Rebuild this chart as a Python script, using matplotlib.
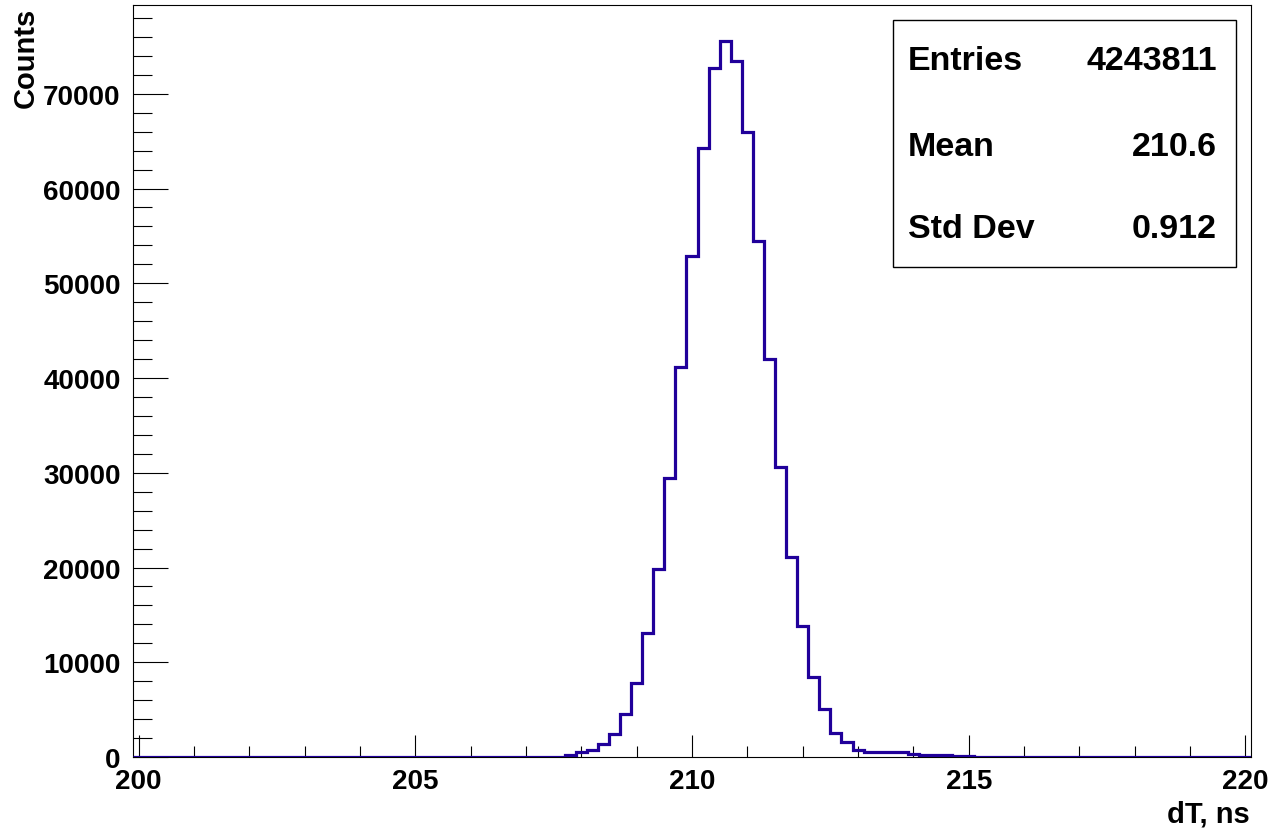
import numpy as np
import matplotlib
matplotlib.use("Agg")
import matplotlib.pyplot as plt
from matplotlib.patches import Rectangle
from matplotlib.ticker import MultipleLocator

# Histogram binning: 101 bins of 0.2 ns centred on 200.0 ... 220.0
bin_low = 199.9
bin_width = 0.2
n_bins = 101

# Counts of the populated bins, starting at the bin centred on 207.8 ns
first_filled_center = 207.8
filled_counts = [
    230, 475, 690, 1320, 2380, 4490, 7810, 13090, 19840, 29410,
    41120, 52840, 64240, 72680, 75590, 73480, 65920, 54490, 42000, 30640,
    21070, 13860, 8480, 5090, 2560, 1560, 790, 520, 510, 500,
    490, 270, 260, 255, 250, 90, 60, 40,
]

x_label = "dT, ns"
y_label = "Counts"
stats_names = ["Entries", "Mean", "Std Dev"]
stats_values = ["4243811", "210.6", "0.912"]

line_color = "#20009a"
font = dict(family="Liberation Sans", weight="bold")

edges = bin_low + bin_width * np.arange(n_bins + 1)
counts = np.zeros(n_bins)
start = int(round((first_filled_center - bin_width / 2 - bin_low) / bin_width))
counts[start:start + len(filled_counts)] = filled_counts

W, H = 1274, 829
fig = plt.figure(figsize=(W / 100, H / 100), dpi=100)
ax = fig.add_axes([133 / W, 1 - 758 / H, (1251 - 133) / W, (758 - 6) / H])

ax.stairs(counts, edges, color=line_color, lw=2.3, zorder=3)
ax.set_xlim(edges[0], edges[-1])
ax.set_ylim(0, 1.05 * counts.max())

ax.xaxis.set_major_locator(MultipleLocator(5))
ax.xaxis.set_minor_locator(MultipleLocator(1))
ax.yaxis.set_major_locator(MultipleLocator(10000))
ax.yaxis.set_minor_locator(MultipleLocator(2000))
ax.xaxis.set_major_formatter(plt.FuncFormatter(lambda v, p: f"{v:g}"))
ax.yaxis.set_major_formatter(plt.FuncFormatter(lambda v, p: f"{v:.0f}"))

ax.tick_params(axis="both", which="both", direction="in", top=False,
               right=False, width=0.8, color="black")
ax.tick_params(axis="x", which="major", length=16, pad=8)
ax.tick_params(axis="x", which="minor", length=8)
ax.tick_params(axis="y", which="major", length=25, pad=9)
ax.tick_params(axis="y", which="minor", length=13.5)
for lab in ax.get_xticklabels() + ax.get_yticklabels():
    lab.set_fontfamily(font["family"])
    lab.set_fontweight(font["weight"])
    lab.set_fontsize(20)

for sp in ax.spines.values():
    sp.set_linewidth(0.8)
    sp.set_color("black")

# Axis titles, right/top aligned at the ends of the axes
fig.text(1250 / W, 1 - 815 / H, x_label, ha="right", va="center",
         fontsize=21, **font)
fig.text(26 / W, 1 - 8 / H, y_label, ha="center", va="top", rotation=90,
         fontsize=21, **font)

# Statistics box
bx0, by0, bx1, by1 = 893, 21, 1236, 268
fig.add_artist(Rectangle((bx0 / W, 1 - by1 / H), (bx1 - bx0) / W,
                         (by1 - by0) / H, transform=fig.transFigure,
                         facecolor="white", edgecolor="black", lw=1.0,
                         zorder=5))
row_y = [62, 147, 230]
for name, val, yy in zip(stats_names, stats_values, row_y):
    fig.text(908 / W, 1 - yy / H, name, ha="left", va="center",
             fontsize=24.5, zorder=6, **font)
    fig.text(1217 / W, 1 - yy / H, val, ha="right", va="center",
             fontsize=24.5, zorder=6, **font)

fig.savefig("out.png", dpi=100)
